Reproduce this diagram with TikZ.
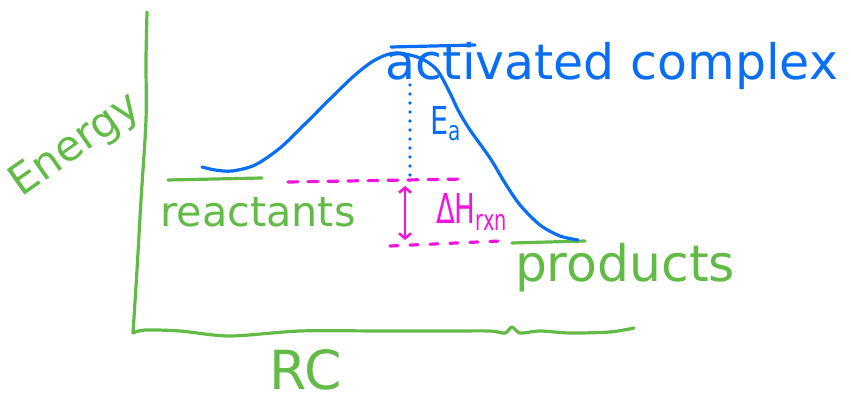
\documentclass[tikz,border=0pt]{standalone}
\usepackage{fontspec}
\setmainfont{DejaVu Sans}
\usetikzlibrary{arrows.meta}
\definecolor{pgreen}{RGB}{98,187,70}
\definecolor{pblue}{RGB}{10,110,245}
\definecolor{pmag}{RGB}{240,20,220}
\tikzset{
  pen/.style={line width=3.2pt, line cap=round, line join=round},
  gpen/.style={pen, draw=pgreen},
  bpen/.style={pen, draw=pblue},
  mpen/.style={pen, draw=pmag},
  lbl/.style={inner sep=0pt, outer sep=0pt},
}
\newcommand{\fitw}[2]{\resizebox{#1pt}{!}{#2}}
\newcommand{\fitwh}[3]{\resizebox{#1pt}{#2pt}{#3}}
\begin{document}
\begin{tikzpicture}[x=1pt,y=-1pt]
\useasboundingbox (0,0) rectangle (851,403);
% axes
\coordinate (ytop) at (147,12);
\coordinate (origin) at (133,333);
\coordinate (xend) at (634,328);
\draw[gpen] plot[smooth] coordinates {(ytop) (146,60) (146,120) (141,200) (137,270) (origin)};
\draw[gpen] plot[smooth] coordinates {(origin) (145,330) (180,331) (230,336) (300,331) (380,331) (450,331) (490,331) (505,333) (512,327) (520,333) (540,331) (570,333) (610,332) (xend)};
% axis labels
\node[lbl, text=pgreen, rotate=35] (energy) at (76,146) {\fitw{148}{Energy}};
\node[lbl, text=pgreen] (rc) at (306,370) {\fitwh{72}{40}{RC}};
% reactant and product levels
\coordinate (r1) at (168,180);
\coordinate (r2) at (262,178);
\draw[gpen] (r1) -- (r2);
\node[lbl, text=pgreen] (reactants) at (258,212) {\fitw{195}{reactants}};
\coordinate (p1) at (512,243);
\coordinate (p2) at (585,241);
\draw[gpen] (p1) -- (p2);
\node[lbl, text=pgreen] (products) at (625,268) {\fitw{220}{products}};
% energy curve
\draw[bpen] plot[smooth] coordinates {(202,167) (215,170) (232,171) (255,165) (280,148) (305,124) (330,99) (355,75) (375,60) (395,53) (420,58) (437,70) (450,93) (458,110) (470,130) (490,158) (505,183) (520,205) (540,225) (560,236) (578,240)};
% activated complex level
\coordinate (t1) at (391,47);
\coordinate (t2) at (475,45);
\draw[bpen] (t1) -- (t2);
\node[lbl, text=pblue] (ac) at (612,66) {\fitw{452}{activated complex}};
\coordinate (ea1) at (410,85);
\coordinate (ea2) at (410,175);
\draw[bpen, line width=3.6pt, dash pattern=on 0pt off 9pt] (ea1) -- (ea2);
\node[lbl, text=pblue] (ea) at (446,124) {\fitwh{32}{28}{E\textsubscript{a}}};
% enthalpy
\coordinate (m1) at (288,182);
\coordinate (m2) at (465,179);
\draw[mpen, dash pattern=on 10pt off 10pt] (m1) -- (m2);
\coordinate (n1) at (390,246);
\coordinate (n2) at (500,241);
\draw[mpen, dash pattern=on 8pt off 12pt] (n1) -- (n2);
\coordinate (h1) at (405,186);
\coordinate (h2) at (405,240);
\draw[mpen, line width=2.6pt, {Straight Barb[length=5pt,width=12pt]}-{Straight Barb[length=5pt,width=12pt]}] (h1) -- (h2);
\node[lbl, text=pmag] (dh) at (472,212) {\fitwh{72}{30}{ΔH\textsubscript{rxn}}};
\end{tikzpicture}
\end{document}
